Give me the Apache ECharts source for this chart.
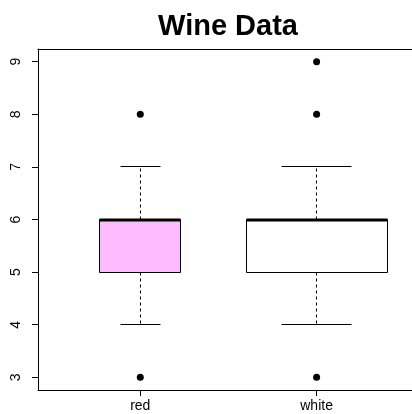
<!DOCTYPE html>
<html>
<head>
<meta charset="utf-8">
<script src="https://cdn.jsdelivr.net/npm/echarts@6/dist/echarts.min.js"></script>
<style>
  html, body { margin: 0; padding: 0; background: #fff; }
  #chart { width: 412px; height: 414px; }
</style>
</head>
<body>
<div id="chart"></div>
<script>
// Quality scores by wine type: five-number summaries and outlying values
const categories = ['red', 'white'];
const lowerWhisker = [4, 4];
const lowerQuartile = [5, 5];
const medians = [6, 6];
const upperQuartile = [6, 6];
const upperWhisker = [7, 7];
const outliers = [[3, 8], [3, 8, 9]];
const yTicks = [3, 4, 5, 6, 7, 8, 9];

// Drawing settings
const boxFill = ['#FFBBFF', '#FFFFFF'];
const boxWidth = [0.457, 0.8];        // in x-axis units (width varies with group size)
const font = 'Liberation Sans, Arial, Helvetica, sans-serif';

const boxData = categories.map((c, i) => [
  i + 1, lowerWhisker[i], lowerQuartile[i], medians[i], upperQuartile[i], upperWhisker[i]
]);
const outlierData = [];
outliers.forEach((vals, i) => vals.forEach(v => outlierData.push([i + 1, v])));

const crisp = v => Math.round(v - 0.5) + 0.5;

function renderBox(params, api) {
  const i = params.dataIndex;
  const x = api.value(0);
  const lo = api.value(1), q1 = api.value(2), med = api.value(3), q3 = api.value(4), hi = api.value(5);
  const w = boxWidth[i];
  const cx = crisp(api.coord([x, med])[0]);
  const xl = crisp(api.coord([x - w / 2, med])[0]);
  const xr = crisp(api.coord([x + w / 2, med])[0]);
  const capL = crisp(api.coord([x - w / 4, med])[0]);
  const capR = crisp(api.coord([x + w / 4, med])[0]);
  const yLo = crisp(api.coord([x, lo])[1]);
  const yQ1 = crisp(api.coord([x, q1])[1]);
  const yMed = Math.round(api.coord([x, med])[1]);
  const yQ3 = crisp(api.coord([x, q3])[1]);
  const yHi = crisp(api.coord([x, hi])[1]);
  const line = { stroke: '#000', lineWidth: 1 };
  const dashed = { stroke: '#000', lineWidth: 1, lineDash: [3, 3] };
  return {
    type: 'group',
    children: [
      { type: 'line', shape: { x1: cx, y1: yQ3, x2: cx, y2: yHi }, style: dashed },
      { type: 'line', shape: { x1: cx, y1: yQ1, x2: cx, y2: yLo }, style: dashed },
      { type: 'line', shape: { x1: capL, y1: yHi, x2: capR, y2: yHi }, style: line },
      { type: 'line', shape: { x1: capL, y1: yLo, x2: capR, y2: yLo }, style: line },
      { type: 'rect', shape: { x: xl, y: yQ3, width: xr - xl, height: yQ1 - yQ3 },
        style: { fill: boxFill[i], stroke: '#000', lineWidth: 1 } },
      { type: 'line', shape: { x1: xl, y1: yMed, x2: xr, y2: yMed },
        style: { stroke: '#000', lineWidth: 3 } }
    ]
  };
}

const chart = echarts.init(document.getElementById('chart'), null, { renderer: 'canvas' });
chart.setOption({
  animation: false,
  backgroundColor: '#fff',
  title: {
    text: 'Wine Data',
    left: 223,
    textAlign: 'center',
    top: 7,
    textStyle: { fontFamily: font, fontWeight: 'bold', fontSize: 29, color: '#000' }
  },
  // plot area runs past the right edge of the canvas, so the frame has no right side
  grid: { left: 38, top: 49, right: 0, bottom: 24, show: false },
  xAxis: [
    {
      type: 'value', min: 0.42, max: 2.541, position: 'bottom',
      axisLine: { show: true, onZero: false, lineStyle: { color: '#000', width: 1 } },
      axisTick: { show: true, length: 6, customValues: [1, 2], lineStyle: { color: '#000' } },
      axisLabel: {
        customValues: [1, 2], margin: 9, fontFamily: font, fontSize: 14, color: '#000',
        formatter: v => categories[Math.round(v) - 1] || ''
      },
      splitLine: { show: false }
    },
    {
      type: 'value', min: 0.42, max: 2.541, position: 'top',
      axisLine: { show: true, onZero: false, lineStyle: { color: '#000', width: 1 } },
      axisTick: { show: false }, axisLabel: { show: false }, splitLine: { show: false }
    }
  ],
  yAxis: {
    type: 'value', min: 2.76, max: 9.24,
    axisLine: { show: true, onZero: false, lineStyle: { color: '#000', width: 1 } },
    axisTick: { show: true, length: 6, customValues: yTicks, lineStyle: { color: '#000' } },
    axisLabel: {
      customValues: yTicks, rotate: 90, margin: 15, fontFamily: font, fontSize: 14, color: '#000'
    },
    splitLine: { show: false }
  },
  series: [
    {
      type: 'custom',
      renderItem: renderBox,
      data: boxData,
      encode: { x: 0, y: [1, 2, 3, 4, 5] },
      clip: false
    },
    {
      type: 'scatter',
      data: outlierData,
      symbol: 'circle',
      symbolSize: 7,
      itemStyle: { color: '#000', opacity: 1 },
      z: 3
    }
  ]
});
</script>
</body>
</html>
